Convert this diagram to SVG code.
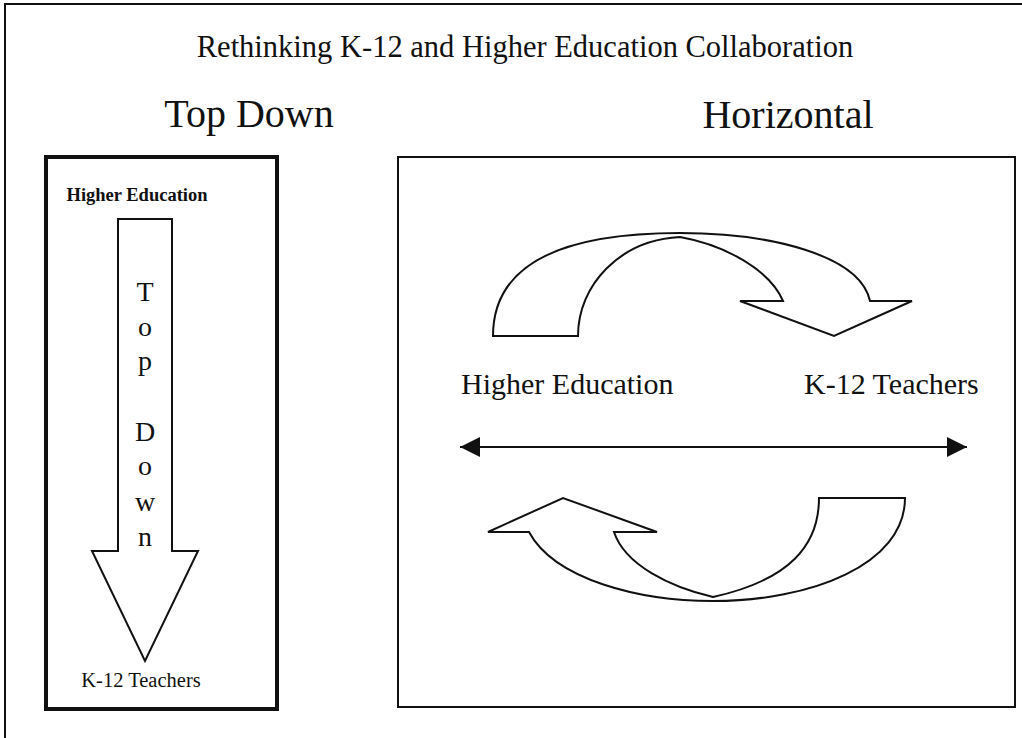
<svg xmlns="http://www.w3.org/2000/svg" width="1022" height="738" viewBox="0 0 1022 738">
  <defs>
    <style>
      text { font-family: "Liberation Serif", "Times New Roman", serif; fill: #111; }
      .title { font-size: 30.5px; }
      .head { font-size: 40px; }
      .small { font-size: 20.5px; }
      .smallb { font-size: 18.5px; font-weight: bold; }
      .vert { font-size: 28px; }
      .lbl { font-size: 30px; }
      .shape { fill: #fff; stroke: #111; stroke-width: 2; stroke-linejoin: miter; }
      .box { fill: none; stroke: #111; }
    </style>
    <marker id="tri" viewBox="0 0 20 20" markerWidth="20" markerHeight="20" markerUnits="userSpaceOnUse" refX="20" refY="10" orient="auto-start-reverse">
      <path d="M0,0 L20,10 L0,20 Z" fill="#111"/>
    </marker>
  </defs>
  <rect width="1022" height="738" fill="#fff"/>

  <g id="frame">
    <path d="M5,738 L5,4 L1022,4" fill="none" stroke="#111" stroke-width="2"/>
  </g>

  <g id="title">
    <text class="title" x="525" y="57" text-anchor="middle">Rethinking K-12 and Higher Education Collaboration</text>
  </g>

  <g id="top-down-heading">
    <text class="head" x="249" y="127" text-anchor="middle">Top Down</text>
  </g>
  <g id="horizontal-heading">
    <text class="head" x="788" y="128" text-anchor="middle">Horizontal</text>
  </g>

  <g id="top-down-box">
    <rect class="box" x="46" y="157" width="231" height="552" stroke-width="4"/>
    <text class="smallb" x="137" y="201" text-anchor="middle">Higher Education</text>
    <text class="small" x="141" y="687" text-anchor="middle">K-12 Teachers</text>
  </g>

  <g id="down-arrow">
    <path class="shape" d="M118,219 L172,219 L172,551 L198,551 L145,661 L92,551 L118,551 Z"/>
    <text class="vert" x="145" y="301" text-anchor="middle">T</text>
    <text class="vert" x="145" y="336" text-anchor="middle">o</text>
    <text class="vert" x="145" y="370" text-anchor="middle">p</text>
    <text class="vert" x="145" y="441" text-anchor="middle">D</text>
    <text class="vert" x="145" y="475" text-anchor="middle">o</text>
    <text class="vert" x="145" y="511" text-anchor="middle">w</text>
    <text class="vert" x="145" y="546" text-anchor="middle">n</text>
  </g>

  <g id="horizontal-box">
    <rect class="box" x="398" y="157" width="617" height="550" stroke-width="2"/>
  </g>

  <g id="label-higher-education">
    <text class="lbl" x="461" y="394">Higher Education</text>
  </g>
  <g id="label-k12-teachers">
    <text class="lbl" x="804" y="394">K-12 Teachers</text>
  </g>

  <g id="curved-arrow-top">
    <path class="shape" d="M493,336 C493,262 565,233 680,233 C770,233 860,255 870,301 L912,301 L834,336 L740,301 L783,301 C770,270 725,245 680,237 C620,240 578,285 578,336 Z"/>
  </g>

  <g id="curved-arrow-bottom">
    <path class="shape" d="M905,498 C905,565 810,601 713,601 C640,601 555,580 529,532 L488,532 L563,498 L657,532 L614,532 C625,565 670,587 713,597 C790,580 819,545 819,498 Z"/>
  </g>

  <g id="connectors">
    <line x1="460" y1="447" x2="967" y2="447" stroke="#111" stroke-width="2" marker-start="url(#tri)" marker-end="url(#tri)"/>
  </g>
</svg>
